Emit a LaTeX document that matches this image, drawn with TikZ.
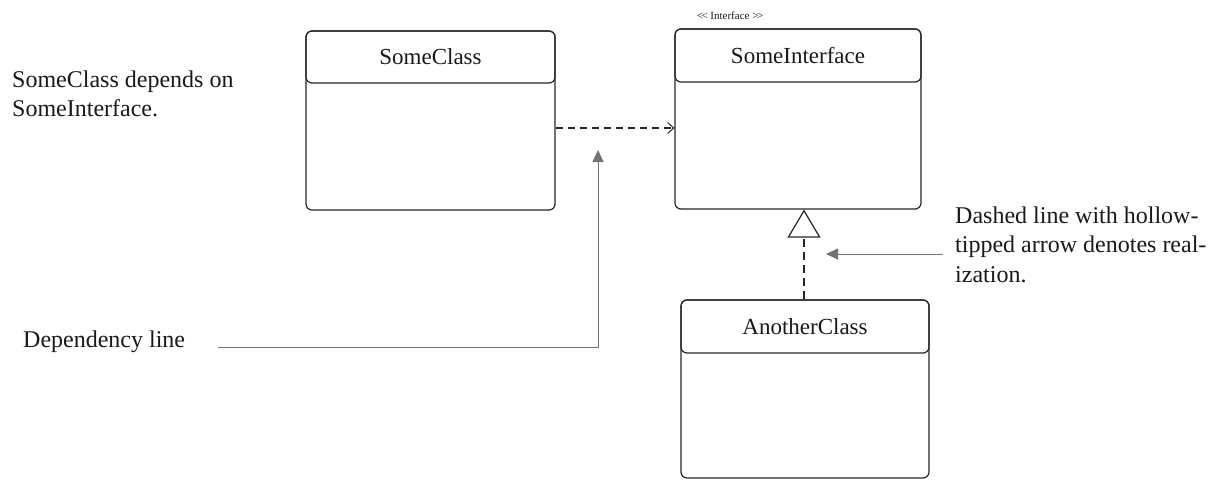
\documentclass[tikz,border=0pt]{standalone}
\usepackage{fontspec}
\setmainfont{Liberation Serif}
\usetikzlibrary{arrows.meta,calc}
\begin{document}
\begin{tikzpicture}[x=1pt,y=-1pt,
  classbody/.style={draw=black!85,line width=1.2pt,rounded corners=6pt,fill=white,inner sep=0pt},
  classhead/.style={draw=black!85,line width=1.2pt,rounded corners=6pt,inner sep=0pt,
    font=\fontsize{23}{27}\selectfont,text=black!90},
  note/.style={align=left,anchor=base west,inner sep=0pt,
    font=\fontsize{24}{29.5}\selectfont,text=black!90},
  pointer/.style={draw=black!55,line width=1pt,-{Triangle[length=12pt,width=11pt]}},
  depend/.style={draw=black!85,line width=1.2pt,dash pattern=on 7pt off 5pt,
    -{Straight Barb[length=6pt,width=11pt,line width=1pt]}},
  realize/.style={draw=black!85,line width=1.2pt,dash pattern=on 8pt off 5pt,
    -{Triangle[open,length=28pt,width=33pt,line width=1.2pt]}}]
\useasboundingbox (0,0) rectangle (1212,480);

% SomeClass
\node[classbody,minimum width=249pt,minimum height=179pt] (sc) at (430.5,120.5) {};
\node[classhead,minimum width=249pt,minimum height=52pt] (sch) at (430.5,57) {SomeClass};

% SomeInterface
\node[classbody,minimum width=246pt,minimum height=180pt] (si) at (798,119) {};
\node[classhead,minimum width=246pt,minimum height=53pt] (sih) at (798,55.5) {SomeInterface};
\node[font=\fontsize{11}{13}\selectfont,inner sep=0pt,text=black!90] (stereo) at (730,16) {<\kern-1.5pt< Interface >\kern-1.5pt>};

% AnotherClass
\node[classbody,minimum width=248pt,minimum height=178pt] (ac) at (805,389) {};
\node[classhead,minimum width=248pt,minimum height=53pt] (ach) at (805,326.5) {AnotherClass};

% dependency and realization
\coordinate (dy) at (0,128);
\draw[depend] (sc.east |- dy) -- (si.west |- dy);
\draw[realize] (ach.north -| 804,0) -- (si.south -| 804,0);

% annotations (base anchor sits on the last line)
\node[note] (t1) at (12,116.5) {SomeClass depends on\\SomeInterface.};
\node[note] (t2) at (23,347) {Dependency line};
\node[note] (t3) at (955,282) {Dashed line with hollow-\\tipped arrow denotes real-\\ization.};

\coordinate (dstart) at (218,347);
\coordinate (dtip) at (598,150);
\draw[pointer] (dstart) -| (dtip);
\coordinate (rstart) at (943,254);
\coordinate (rtip) at (826,254);
\draw[pointer] (rstart) -- (rtip);
\end{tikzpicture}
\end{document}
